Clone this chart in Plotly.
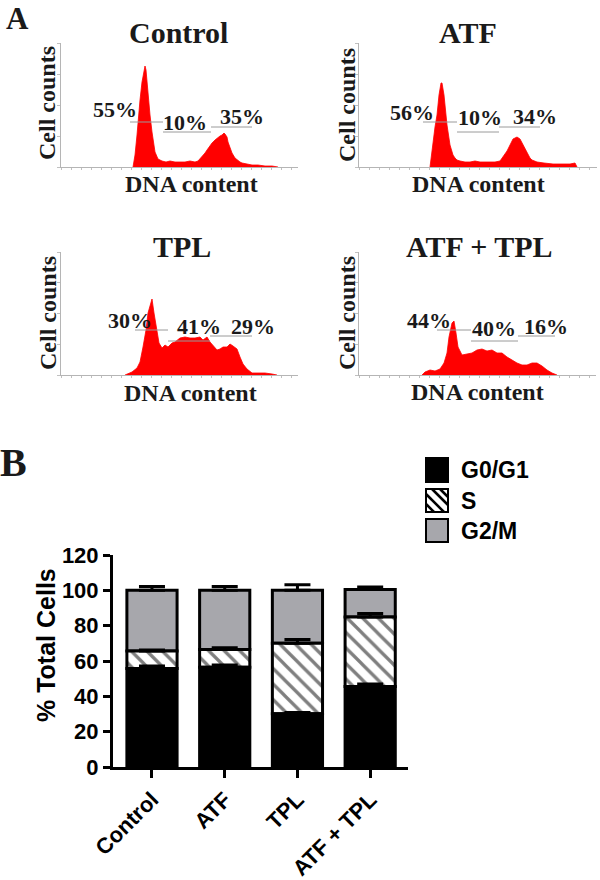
import plotly.graph_objects as go

W, H = 600, 880
SERIF = "Liberation Serif"
SANS = "Liberation Sans"

# ---------------- Panel A data: DNA content histograms ----------------
panel_titles = ["Control", "ATF", "TPL", "ATF + TPL"]

control_channel = [72, 74, 76, 77, 79, 81, 83, 84, 85, 87, 89, 91, 93, 94, 97, 101, 105, 109, 114, 119,
                   124, 129, 134, 137, 141, 144, 146, 149, 151, 154, 156, 159, 161, 163, 164, 166, 167, 169,
                   171, 174, 176, 179, 181, 186, 191, 197, 204, 211, 217]
control_counts = [0, 12, 32, 45, 67, 85, 99, 101, 97, 72, 52, 35, 20, 15, 8, 6, 5, 6, 5, 5,
                  5, 6, 5, 6, 10, 14, 17, 22, 24, 27, 29, 31, 32, 34, 33, 30, 25, 19,
                  14, 9, 7, 5, 4, 3, 2, 2, 1, 1, 0]

atf_channel = [71, 74, 76, 78, 80, 82, 83, 85, 87, 88, 91, 94, 96, 98, 101, 106, 111, 116, 121, 126,
               131, 136, 141, 144, 148, 151, 154, 156, 158, 161, 164, 166, 168, 171, 173, 178, 185, 194,
               203, 211, 216, 218]
atf_counts = [0, 25, 40, 52, 72, 84, 84, 72, 50, 42, 22, 12, 9, 7, 6, 5, 5, 6, 5, 5,
              5, 5, 6, 10, 16, 22, 28, 29, 30, 28, 22, 18, 14, 9, 7, 5, 4, 3,
              3, 3, 4, 0]

tpl_channel = [64, 71, 76, 79, 82, 85, 87, 91, 93, 96, 98, 101, 104, 107, 111, 114, 119, 124, 129, 134,
               139, 142, 146, 149, 152, 156, 159, 162, 166, 169, 172, 176, 179, 182, 186, 191, 197, 204,
               211, 216]
tpl_counts = [0, 3, 7, 13, 28, 45, 62, 76, 62, 45, 32, 27, 30, 28, 32, 33, 37, 38, 37, 37,
              38, 35, 38, 33, 30, 25, 26, 28, 28, 31, 29, 26, 18, 11, 6, 2, 2, 2,
              1, 0]

combo_channel = [63, 66, 71, 76, 81, 85, 88, 90, 93, 95, 97, 99, 103, 108, 113, 118, 123, 128, 133, 138,
                 143, 148, 153, 158, 163, 168, 173, 178, 183, 188, 193, 198]
combo_counts = [0, 3, 5, 4, 6, 12, 22, 38, 52, 54, 42, 28, 20, 21, 22, 25, 26, 24, 25, 22,
                22, 18, 15, 12, 10, 10, 12, 12, 9, 5, 2, 0]

# cell-cycle gates (start channel, end channel, drawing level) and their percentages
control_gate_start = [69, 102, 150]
control_gate_end = [102, 150, 191]
control_gate_level = [45, 35, 40]
control_pct = ["55%", "10%", "35%"]

atf_gate_start = [64, 98, 140]
atf_gate_end = [98, 140, 181]
atf_gate_level = [45, 35, 40]
atf_pct = ["56%", "10%", "34%"]

tpl_gate_start = [74, 107, 149]
tpl_gate_end = [107, 149, 191]
tpl_gate_level = [45, 34, 39]
tpl_pct = ["30%", "41%", "29%"]

combo_gate_start = [78, 112, 159]
combo_gate_end = [112, 159, 196]
combo_gate_level = [45, 34, 39]
combo_pct = ["44%", "40%", "16%"]

# ---------------- Panel B data: stacked bars ----------------
categories = ["Control", "ATF", "TPL", "ATF + TPL"]
g0g1 = [55.8, 56.4, 30.1, 45.5]
s_phase = [9.8, 10.1, 40.0, 39.4]
g2m = [34.4, 33.5, 29.9, 15.6]
g0g1_err = [1.3, 1.3, 0.8, 1.5]
s_err = [0.6, 1.0, 2.1, 2.0]
g2m_err = [2.2, 2.2, 3.2, 1.4]
y_ticks = [0, 20, 40, 60, 80, 100, 120]


def px(x):
    return x / W


def py(y):
    return 1 - y / H


def ann(x, y, text, size, family, **kw):
    d = dict(x=px(x), y=py(y), xref="paper", yref="paper", text=text, showarrow=False,
             xanchor="center", yanchor="middle",
             font=dict(family=family, size=size, color="#1a1a1a", weight="bold"))
    d.update(kw)
    return d


fig = go.Figure()

# layout positions of histogram panels (pixels): x0, x1, y_top, y_bottom
hist_boxes = [(61, 298, 43, 167), (359, 597, 43, 167), (61, 298, 252, 375), (359, 596, 252, 375)]
hist_data = [
    (control_channel, control_counts, control_gate_start, control_gate_end, control_gate_level, control_pct),
    (atf_channel, atf_counts, atf_gate_start, atf_gate_end, atf_gate_level, atf_pct),
    (tpl_channel, tpl_counts, tpl_gate_start, tpl_gate_end, tpl_gate_level, tpl_pct),
    (combo_channel, combo_counts, combo_gate_start, combo_gate_end, combo_gate_level, combo_pct),
]
# label positions in data units (channel, count)
pct_pos = [
    [(54, 57), (124, 44), (181, 50)],
    [(53, 54), (121, 49), (176, 50)],
    [(69, 55), (138, 49), (192, 49)],
    [(70, 55), (135, 47), (187, 49)],
]
title_pos = [(178, 32), (468, 33), (182, 246), (479, 246)]
xlab_pos = [(191, 184), (478, 184), (190, 393), (477, 392)]
ylab_pos = [(47, 103), (347, 105), (48, 313), (347, 313)]

annotations = []
layout_axes = {}
for i, (box, dat) in enumerate(zip(hist_boxes, hist_data)):
    n = i + 1
    xa = "x" if n == 1 else f"x{n}"
    ya = "y" if n == 1 else f"y{n}"
    ch, ct, gs, ge, gl, pct = dat
    fig.add_trace(go.Scatter(x=ch, y=ct, mode="lines", fill="tozeroy",
                             line=dict(color="#ff0000", width=0.8), fillcolor="#ff0000",
                             xaxis=xa, yaxis=ya, showlegend=False, hoverinfo="skip"))
    for a, b, lev in zip(gs, ge, gl):
        fig.add_trace(go.Scatter(x=[a, b], y=[lev, lev], mode="lines",
                                 line=dict(color="#9a9a9a", width=1),
                                 xaxis=xa, yaxis=ya, showlegend=False, hoverinfo="skip"))
    for txt, (lx, ly) in zip(pct, pct_pos[i]):
        annotations.append(dict(x=lx, y=ly, xref=xa, yref=ya, text=txt, showarrow=False,
                                xanchor="center", yanchor="middle",
                                font=dict(family=SERIF, size=22, color="#1a1a1a", weight="bold")))
    x0, x1, yt, yb = box
    axx = dict(domain=[px(x0), px(x1)], range=[0, x1 - x0], anchor=ya, showline=True,
               linecolor="#b5b5b5", linewidth=1, ticks="outside", ticklen=2, tickcolor="#c0c0c0",
               dtick=10, showticklabels=False, showgrid=False, zeroline=False, automargin=False)
    axy = dict(domain=[py(yb), py(yt)], range=[0, yb - yt], anchor=xa, showline=True,
               linecolor="#b5b5b5", linewidth=1, ticks="outside", ticklen=3, tickcolor="#c0c0c0",
               dtick=(yb - yt) / 4, showticklabels=False, showgrid=False, zeroline=False,
               automargin=False)
    layout_axes["xaxis" if n == 1 else f"xaxis{n}"] = axx
    layout_axes["yaxis" if n == 1 else f"yaxis{n}"] = axy
    tx, ty = title_pos[i]
    annotations.append(ann(tx, ty, panel_titles[i], 30, SERIF))
    lx, ly = xlab_pos[i]
    annotations.append(ann(lx, ly, "DNA content", 24, SERIF))
    lx, ly = ylab_pos[i]
    annotations.append(ann(lx, ly, "Cell counts", 24, SERIF, textangle=-90))

# ---------------- Panel B: bars (drawn top segment first so caps show) ----------------
gray = "#a7a7ac"
bar_w = 0.69
cap = 13
s_base = [a + b for a, b in zip(g0g1, s_phase)]
fig.add_trace(go.Bar(x=categories, y=g2m, base=s_base, width=bar_w, xaxis="x5", yaxis="y5",
                     marker=dict(color=gray, line=dict(color="black", width=3)),
                     error_y=dict(type="data", symmetric=False, array=g2m_err, arrayminus=[0] * 4,
                                  color="black", thickness=3, width=cap),
                     showlegend=False, name="G2/M"))
fig.add_trace(go.Bar(x=categories, y=s_phase, base=g0g1, width=bar_w, xaxis="x5", yaxis="y5",
                     marker=dict(color="white", line=dict(color="black", width=3),
                                 pattern=dict(shape="\\", fgcolor="black", bgcolor="white",
                                              fillmode="overlay", size=11, solidity=0.3)),
                     error_y=dict(type="data", symmetric=False, array=s_err, arrayminus=[0] * 4,
                                  color="black", thickness=3, width=cap),
                     showlegend=False, name="S"))
fig.add_trace(go.Bar(x=categories, y=g0g1, base=[0] * 4, width=bar_w, xaxis="x5", yaxis="y5",
                     marker=dict(color="black", line=dict(color="black", width=3)),
                     error_y=dict(type="data", symmetric=False, array=g0g1_err, arrayminus=[0] * 4,
                                  color="black", thickness=3, width=cap),
                     showlegend=False, name="G0/G1"))

layout_axes["xaxis5"] = dict(domain=[px(113), px(408)], range=[-0.536, 3.52], anchor="y5",
                             showline=True, linecolor="black", linewidth=3, ticks="outside",
                             ticklen=8, tickwidth=3, tickcolor="black", tickangle=-45,
                             tickfont=dict(family=SANS, size=22, color="black", weight="bold"),
                             showgrid=False, zeroline=False, automargin=False)
layout_axes["yaxis5"] = dict(domain=[py(767), py(555)], range=[0, 120], anchor="x5",
                             tickvals=y_ticks, showline=True, linecolor="black", linewidth=3,
                             ticks="outside", ticklen=7, tickwidth=3, tickcolor="black",
                             tickfont=dict(family=SANS, size=22, color="black", weight="bold"),
                             showgrid=False, zeroline=False, automargin=False)

annotations.append(ann(46, 645, "% Total Cells", 25, SANS, textangle=-90))
annotations[-1]["font"]["color"] = "black"
annotations.append(ann(17, 18, "A", 31, SERIF))
annotations.append(ann(13, 462, "B", 40, SERIF))

# legend (custom)
legend_names = ["G0/G1", "S", "G2/M"]
legend_rows = [(458, 482), (489, 512), (519, 542)]
legend_fill = ["black", "white", gray]
lx0, lx1 = 426, 448
shapes = []
for name, (y0, y1), fc in zip(legend_names, legend_rows, legend_fill):
    shapes.append(dict(type="rect", xref="paper", yref="paper", x0=px(lx0), x1=px(lx1),
                       y0=py(y1), y1=py(y0), fillcolor=fc, line=dict(color="black", width=2)))
    annotations.append(ann(459, (y0 + y1) / 2, name, 23, SANS, xanchor="left"))
    annotations[-1]["font"]["color"] = "black"
for (ax0, ay0, ax1, ay1) in [(426, 494, 444, 512), (432, 489, 448, 505), (426, 504, 434, 512),
                             (440, 489, 448, 497)]:
    shapes.append(dict(type="line", xref="paper", yref="paper", x0=px(ax0), y0=py(ay0),
                       x1=px(ax1), y1=py(ay1), line=dict(color="black", width=2.5)))

fig.update_layout(width=W, height=H, margin=dict(l=0, r=0, t=0, b=0, autoexpand=False),
                  paper_bgcolor="white", plot_bgcolor="rgba(0,0,0,0)",
                  barmode="overlay", showlegend=False,
                  annotations=annotations, shapes=shapes, **layout_axes)

fig.write_html("out.html", config={"displayModeBar": False},
               post_script="document.body.style.margin='0px';")
